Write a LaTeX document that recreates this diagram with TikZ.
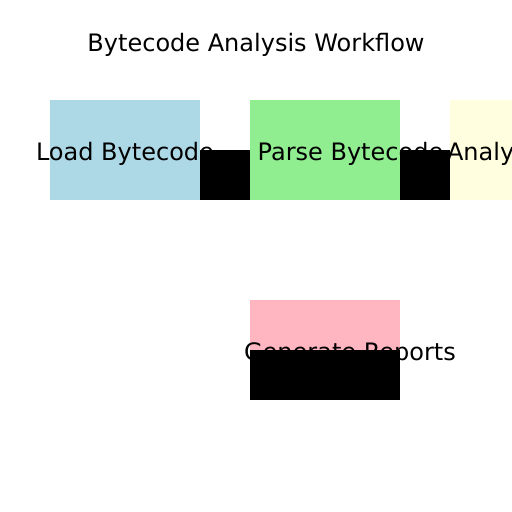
\documentclass[tikz,border=0pt]{standalone}
\usepackage{fontspec}
\setmainfont{DejaVu Sans}
\definecolor{lblue}{HTML}{ADD8E6}
\definecolor{lgreen}{HTML}{90EE90}
\definecolor{lyellow}{HTML}{FFFFE0}
\definecolor{lpink}{HTML}{FFB6C1}
\begin{document}
\begin{tikzpicture}[x=1pt,y=-1pt,
  box/.style={rectangle, inner sep=0pt, outer sep=0pt, minimum width=150pt, minimum height=100pt, draw=none},
  blk/.style={rectangle, inner sep=0pt, outer sep=0pt, fill=black, draw=none},
  lbl/.style={anchor=base, inner sep=0pt, font=\fontsize{24}{28}\selectfont}]
\useasboundingbox (0,0) rectangle (512,512);
\clip (0,0) rectangle (512,512);
\fill[white] (0,0) rectangle (512,512);
\node[lbl] (title) at (256,51) {Bytecode Analysis Workflow};
\node[box, fill=lblue] (load) at (125,150) {};
\node[box, fill=lgreen] (parse) at (325,150) {};
\node[box, fill=lyellow] (analyze) at (525,150) {};
\node[box, fill=lpink] (report) at (325,350) {};
\node[lbl] (loadtxt) at (125,160) {Load Bytecode};
\node[lbl] (parsetxt) at (350.5,160) {Parse Bytecode};
\node[lbl] (analyzetxt) at (554.5,160) {Analyze Bytecode};
\node[lbl] (reporttxt) at (350,360) {Generate Reports};
\node[blk, minimum width=50pt, minimum height=50pt] (b1) at (225,175) {};
\node[blk, minimum width=50pt, minimum height=50pt] (b2) at (425,175) {};
\node[blk, minimum width=150pt, minimum height=50pt] (b3) at (325,375) {};
\end{tikzpicture}
\end{document}
